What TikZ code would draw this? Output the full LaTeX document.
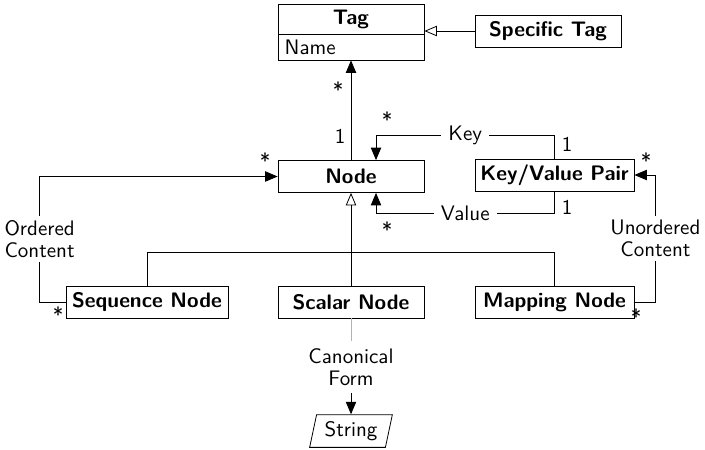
\documentclass[tikz,border=0pt]{standalone}
\usepackage{tikz}
\usetikzlibrary{shapes, arrows, calc, positioning}

\begin{document}
\begin{tikzpicture}[x=0.5pt, y=-0.5pt, font=\sffamily\fontsize{10.5}{11.3}\selectfont,
	class/.style={draw, minimum width=73pt, minimum height=16pt, inner sep=2pt, font=\sffamily\bfseries\fontsize{10.5}{11.3}\selectfont},
	assoc/.style={-triangle 45},
	inherit/.style={-open triangle 45},
	lbl/.style={fill=white, inner xsep=3.5pt, inner ysep=2pt, align=center},
	mult/.style={inner sep=0pt}]

	\useasboundingbox (0,0) rectangle (705,449);

	% classes
	\node[draw, rectangle split, rectangle split parts=2, minimum width=73pt,
		rectangle split part align={center,left}, inner ysep=2.6pt] (tag) at (351,32) {\textbf{Tag}\nodepart{second}Name};
	\node[class] (spectag) at (548,31) {Specific Tag};
	\node[class] (node) at (351,176.5) {Node};
	\node[class, minimum width=79.5pt] (kvpair) at (554.5,175) {Key/Value Pair};
	\node[class, minimum width=81pt] (seqnode) at (147,302) {Sequence Node};
	\node[class] (scalarnode) at (351,302) {Scalar Node};
	\node[class, minimum width=79.5pt] (mapnode) at (554.5,302) {Mapping Node};
	\node[align=center] (canon) at (351,367) {Canonical\\Form};
	\node[draw, trapezium, trapezium left angle=78, trapezium right angle=102, minimum height=16pt, inner xsep=4pt] (string) at (351,431) {String};

	% inheritance
	\draw[inherit] (spectag) -- (spectag -| tag.east);
	\draw[inherit] (scalarnode) -- (node);
	\draw (seqnode.north) -- ++(0,-33) -| (mapnode.north);

	% associations
	\draw[assoc] (node) -- (tag);
	\draw[assoc] (kvpair.north) -- ++(0,-23) -| ([xshift=12.5pt]node.north) node[pos=0.25, lbl] {Key};
	\draw[assoc] (kvpair.south) -- ++(0,22) -| ([xshift=12.5pt]node.south) node[pos=0.25, lbl] {Value};
	\draw[assoc] (seqnode.west) -- ++(-26,0) |- (node.west) node[pos=0.25, lbl] {Ordered\\Content};
	\draw[assoc] (mapnode.east) -- ++(21,0) |- (kvpair.east) node[pos=0.25, lbl] {Unordered\\Content};
	\draw[gray!60] (scalarnode) -- (canon);
	\draw[assoc] (canon) -- (string);

	% multiplicities
	\node[mult] at (338,90) {*};
	\node[mult] at (340,136) {1};
	\node[mult] at (387,120) {*};
	\node[mult] at (567,144) {1};
	\node[mult] at (567,207) {1};
	\node[mult] at (387,230) {*};
	\node[mult] at (265,161) {*};
	\node[mult] at (58,315) {*};
	\node[mult] at (646,161) {*};
	\node[mult] at (636,317) {*};
\end{tikzpicture}
\end{document}
